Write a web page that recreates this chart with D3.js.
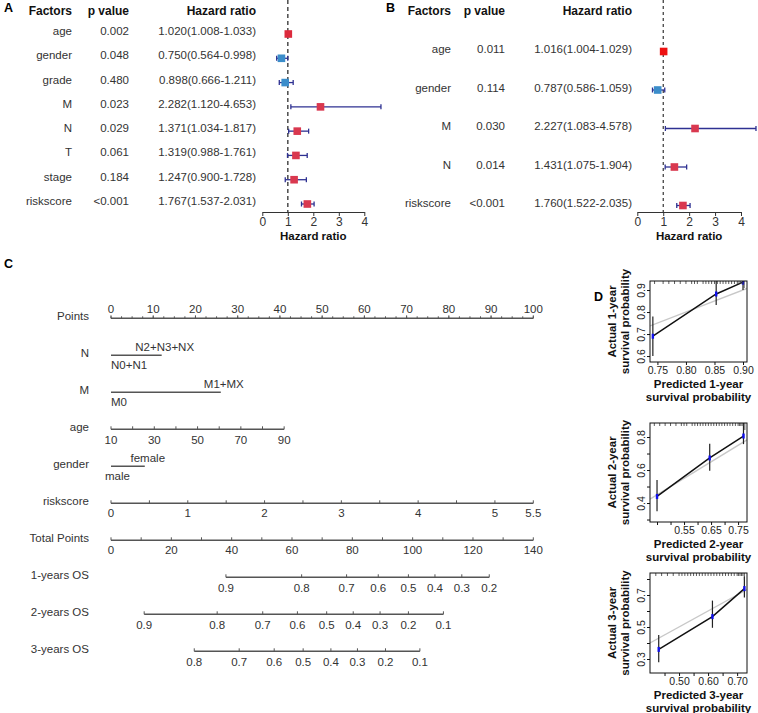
<!DOCTYPE html>
<html><head><meta charset="utf-8">
<script src="https://cdn.jsdelivr.net/npm/d3@7"></script>
<style>body{margin:0;background:#fff}svg{display:block}text{font-family:"Liberation Sans",Arial,sans-serif}</style>
</head><body><svg id="c" width="758" height="713"></svg>
<script>
// ---------- Panel A (univariate) ----------
const factorsA = ["age","gender","grade","M","N","T","stage","riskscore"];
const pA  = ["0.002","0.048","0.480","0.023","0.029","0.061","0.184","<0.001"];
const hrA = [1.020,0.750,0.898,2.282,1.371,1.319,1.247,1.767];
const loA = [1.008,0.564,0.666,1.120,1.034,0.988,0.900,1.537];
const hiA = [1.033,0.998,1.211,4.653,1.817,1.761,1.728,2.031];
// ---------- Panel B (multivariate) ----------
const factorsB = ["age","gender","M","N","riskscore"];
const pB  = ["0.011","0.114","0.030","0.014","<0.001"];
const hrB = [1.016,0.787,2.227,1.431,1.760];
const loB = [1.004,0.586,1.083,1.075,1.522];
const hiB = [1.029,1.059,4.578,1.904,2.035];
const hrTicks = [0,1,2,3,4];
// ---------- Panel C (nomogram) ----------
const nomoRows = ["Points","N","M","age","gender","riskscore","Total Points","1-years OS","2-years OS","3-years OS"];
const pointTicks = [0,10,20,30,40,50,60,70,80,90,100];
const nLevels = ["N0+N1","N2+N3+NX"], nPoints = [0,12];
const mLevels = ["M0","M1+MX"], mPoints = [0,26];
const genderLevels = ["male","female"], genderPoints = [0,8];
const ageTicks = [10,20,30,40,50,60,70,80,90], ageLabels = [10,30,50,70,90], agePointsAt90 = 41;
const riskTicks = [0,0.5,1,1.5,2,2.5,3,3.5,4,4.5,5,5.5], riskLabels = [0,1,2,3,4,5,5.5];
const totalTicks = [0,10,20,30,40,50,60,70,80,90,100,110,120,130,140], totalLabels = [0,20,40,60,80,100,120,140];
const os1Prob = ["0.9","0.8","0.7","0.6","0.5","0.4","0.3","0.2"];
const os1Total = [38.1,63.2,78.1,88.6,98.6,107.4,116.3,125.4];
const os2Prob = ["0.9","0.8","0.7","0.6","0.5","0.4","0.3","0.2","0.1"];
const os2Total = [11.0,35.2,50.3,61.8,71.5,80.3,89.2,98.6,110.2];
const os3Prob = ["0.8","0.7","0.6","0.5","0.4","0.3","0.2","0.1"];
const os3Total = [27.6,42.5,54.1,63.7,72.9,81.7,91.0,102.4];
// ---------- Panel D (calibration) ----------
const cal1Pred = [0.742,0.853,0.900], cal1Obs = [0.690,0.882,0.936], cal1Lo = [0.600,0.832,0.900], cal1Hi = [0.780,0.945,0.980];
const cal2Pred = [0.450,0.645,0.770], cal2Obs = [0.440,0.673,0.806], cal2Lo = [0.350,0.595,0.757], cal2Hi = [0.540,0.760,0.900];
const cal3Pred = [0.430,0.615,0.725], cal3Obs = [0.360,0.565,0.740], cal3Lo = [0.280,0.495,0.685], cal3Hi = [0.450,0.665,0.815];
const cal1XTicks = [0.75,0.80,0.85,0.90], cal1XLabels = [0.75,0.80,0.85,0.90];
const cal2XTicks = [0.45,0.50,0.55,0.60,0.65,0.70,0.75], cal2XLabels = [0.55,0.65,0.75];
const cal3XTicks = [0.45,0.50,0.55,0.60,0.65,0.70], cal3XLabels = [0.50,0.60,0.70];
const cal1YTicks = [0.6,0.7,0.8,0.9], cal1YLabels = [0.6,0.7,0.8,0.9];
const cal2YTicks = [0.3,0.4,0.5,0.6,0.7,0.8], cal2YLabels = [0.4,0.6,0.8];
const cal3YTicks = [0.3,0.4,0.5,0.6,0.7,0.8], cal3YLabels = [0.3,0.5,0.7];
const rug1 = [0.745,0.76,0.77,0.78,0.79,0.80,0.81,0.815,0.82,0.83,0.835,0.84,0.845,0.85,0.855,0.86,0.865,0.87,0.875,0.88,0.885,0.89,0.893,0.896,0.899,0.902];
const rug2 = [0.44,0.46,0.48,0.50,0.52,0.54,0.55,0.56,0.58,0.59,0.60,0.61,0.62,0.63,0.64,0.65,0.66,0.67,0.68,0.69,0.70,0.71,0.72,0.73,0.74,0.75,0.755,0.76,0.765,0.77,0.775];
const rug3 = [0.42,0.44,0.46,0.48,0.50,0.51,0.52,0.53,0.54,0.55,0.56,0.57,0.58,0.59,0.60,0.61,0.62,0.63,0.64,0.65,0.66,0.67,0.68,0.69,0.70,0.705,0.71,0.715,0.72,0.725];

const svg = d3.select("#c");
function txt(x, y, s, o = {}) {
  return svg.append("text").attr("x", x).attr("y", y).attr("dominant-baseline", "central")
    .attr("text-anchor", o.anchor || "start").attr("font-size", o.size || 11.5)
    .attr("font-weight", o.bold ? "bold" : "normal").attr("fill", o.fill || "#333").text(s);
}

// ================= Forest plots =================
function forest(c) {
  txt(c.letterX, 8, c.letter, {bold: true, size: 12.5, fill: "#000"});
  txt(c.colF, 11, "Factors", {anchor: "end", bold: true, size: 12, fill: "#111"});
  txt(c.colP, 11, "p value", {anchor: "end", bold: true, size: 12, fill: "#111"});
  txt(c.colH, 11, "Hazard ratio", {anchor: "end", bold: true, size: 12, fill: "#111"});
  const y = d3.scalePoint().domain(c.factors).range(c.rowRange);
  const x = d3.scaleLinear().domain([0, 4]).range(c.xRange);
  const f3 = d3.format(".3f");
  c.factors.forEach((f, i) => {
    txt(c.colF, y(f), f, {anchor: "end", size: 11.5});
    txt(c.colP, y(f), c.p[i], {anchor: "end", size: 11.5});
    txt(c.colH, y(f), `${f3(c.hr[i])}(${f3(c.lo[i])}-${f3(c.hi[i])})`, {anchor: "end", size: 11.5});
  });
  svg.append("line").attr("x1", x(1)).attr("x2", x(1)).attr("y1", 0).attr("y2", c.axisY)
    .attr("stroke", c.dashCol).attr("stroke-width", c.dashW).attr("stroke-dasharray", c.dash);
  const g = svg.append("g");
  c.factors.forEach((f, i) => {
    const yy = y(f) + c.dy;
    g.append("line").attr("x1", x(c.lo[i])).attr("x2", x(c.hi[i])).attr("y1", yy).attr("y2", yy)
      .attr("stroke", "#2e3192").attr("stroke-width", 1.3);
    [c.lo[i], c.hi[i]].forEach(v => g.append("line").attr("x1", x(v)).attr("x2", x(v))
      .attr("y1", yy - 2.5).attr("y2", yy + 2.5).attr("stroke", "#2e3192").attr("stroke-width", 1.3));
    const col = c.hr[i] < 1 ? "#3b8dca" : (c.hi[i] - c.lo[i] < 0.05 ? c.tightRed : "#d9384f");
    g.append("rect").attr("x", x(c.hr[i]) - 3.8).attr("y", yy - 3.8).attr("width", 7.6).attr("height", 7.6).attr("fill", col);
  });
  const ax = svg.append("g").attr("transform", `translate(0,${c.axisY})`)
    .call(d3.axisBottom(x).tickValues(hrTicks).tickFormat(d3.format("d")).tickSize(4).tickSizeOuter(0));
  ax.selectAll("path,line").attr("stroke", "#333");
  ax.selectAll("text").attr("font-size", 12).attr("fill", "#333").attr("font-family", '"Liberation Sans",Arial,sans-serif').attr("dy", "0.6em");
  txt((c.xRange[0] + c.xRange[1]) / 2, 236, "Hazard ratio", {anchor: "middle", bold: true, size: 11.5, fill: "#111"});
}
forest({letter: "A", letterX: 4, factors: factorsA, p: pA, hr: hrA, lo: loA, hi: hiA,
  colF: 72, colP: 129, colH: 256, rowRange: [31, 201], dy: 3, xRange: [262.3, 364.3], axisY: 212,
  dashCol: "#555", dashW: 1.6, dash: "4,3", tightRed: "#dc2a3c"});
forest({letter: "B", letterX: 386, factors: factorsB, p: pB, hr: hrB, lo: loB, hi: hiB,
  colF: 451, colP: 505, colH: 632, rowRange: [49, 203], dy: 2.5, xRange: [637.3, 741], axisY: 212,
  dashCol: "#222", dashW: 1.1, dash: "3,3", tightRed: "#ee1111"});

// ================= Nomogram =================
txt(4, 264, "C", {bold: true, size: 12.5, fill: "#000"});
const rowY = d3.scalePoint().domain(nomoRows).range([316, 649]);
const pts = d3.scaleLinear().domain([0, 100]).range([111, 533.3]);
const tot = d3.scaleLinear().domain([0, 140]).range([111, 533.3]);
nomoRows.forEach(r => txt(89, rowY(r), r, {anchor: "end", size: 11.5}));
const LC = "#555";
function hline(x1, x2, y) {
  svg.append("line").attr("x1", x1).attr("x2", x2).attr("y1", y).attr("y2", y).attr("stroke", LC).attr("stroke-width", 1.6);
}
function ticks(xs, y, h) {
  xs.forEach(x => svg.append("line").attr("x1", x).attr("x2", x).attr("y1", y).attr("y2", y - h).attr("stroke", LC).attr("stroke-width", 1));
}
function lineY(r) { return rowY(r) + 2.3; }
{
  const y = lineY("Points");
  hline(pts(0), pts(100), y);
  const minor = d3.range(0, 100.01, 2.5);
  ticks(minor.map(pts), y, 2);
  ticks(pointTicks.map(pts), y, 3);
  pointTicks.forEach(v => txt(pts(v), y - 9.5, v, {anchor: "middle"}));
}
function catRow(r, levels, points) {
  const y = lineY(r);
  hline(pts(points[0]), pts(points[1]), y);
  txt(pts(points[0]) - (levels[0] === "male" ? 6 : 0), y + 9.5, levels[0], {anchor: "start"});
  txt(pts(points[1]) + 3, y - 8.5, levels[1], {anchor: "middle"});
}
catRow("N", nLevels, nPoints);
catRow("M", mLevels, mPoints);
catRow("gender", genderLevels, genderPoints);
{
  const y = lineY("age");
  const a = d3.scaleLinear().domain([10, 90]).range([pts(0), pts(agePointsAt90)]);
  hline(a(10), a(90), y);
  ticks(ageTicks.map(a), y, 3);
  ageLabels.forEach(v => txt(a(v), y + 10.5, v, {anchor: "middle"}));
}
{
  const y = lineY("riskscore");
  const rs = d3.scaleLinear().domain([0, 5.5]).range([pts(0), pts(100)]);
  hline(rs(0), rs(5.5), y);
  ticks(riskTicks.map(rs), y, 3);
  riskLabels.forEach(v => txt(rs(v), y + 10, v, {anchor: "middle"}));
}
{
  const y = lineY("Total Points");
  hline(tot(0), tot(140), y);
  ticks(totalTicks.map(tot), y, 3);
  totalLabels.forEach(v => txt(tot(v), y + 10, v, {anchor: "middle"}));
}
function osRow(r, probs, totals) {
  const y = lineY(r);
  hline(tot(totals[0]), tot(totals[totals.length - 1]), y);
  ticks(totals.map(tot), y, 3);
  totals.forEach((t, i) => txt(tot(t), y + 10.5, probs[i], {anchor: "middle"}));
}
osRow("1-years OS", os1Prob, os1Total);
osRow("2-years OS", os2Prob, os2Total);
osRow("3-years OS", os3Prob, os3Total);

// ================= Calibration plots =================
txt(594, 297, "D", {bold: true, size: 12.5, fill: "#000"});
let clipN = 0;
function calib(c) {
  const L = 650, R = 747;
  const x = d3.scaleLinear().domain(c.xdom).range([L, R]);
  const y = d3.scaleLinear().domain(c.ydom).range([c.B, c.T]);
  const id = "clip" + (clipN++);
  svg.append("clipPath").attr("id", id).append("rect").attr("x", L).attr("y", c.T).attr("width", R - L).attr("height", c.B - c.T);
  const g = svg.append("g").attr("clip-path", `url(#${id})`);
  g.append("line").attr("x1", x(c.xdom[0])).attr("y1", y(c.xdom[0])).attr("x2", x(c.xdom[1])).attr("y2", y(c.xdom[1]))
    .attr("stroke", "#c8c8c8").attr("stroke-width", 1.4);
  const pts3 = c.pred.map((p, i) => [x(p), y(c.obs[i])]);
  g.append("path").attr("d", d3.line()(pts3)).attr("fill", "none").attr("stroke", "#111").attr("stroke-width", 1.5);
  c.pred.forEach((p, i) => {
    g.append("line").attr("x1", x(p)).attr("x2", x(p)).attr("y1", y(c.lo[i])).attr("y2", y(c.hi[i]))
      .attr("stroke", "#222").attr("stroke-width", 1.2);
    g.append("rect").attr("x", x(p) - 1.2).attr("y", y(c.obs[i]) - 2.5).attr("width", 2.4).attr("height", 5).attr("fill", "#1010ee");
  });
  c.rug.forEach((v, i) => g.append("line").attr("x1", x(v)).attr("x2", x(v)).attr("y1", c.T).attr("y2", c.T + (i === c.rug.length - 1 ? 7 : 3))
    .attr("stroke", "#333").attr("stroke-width", 0.8));
  svg.append("rect").attr("x", L).attr("y", c.T).attr("width", R - L).attr("height", c.B - c.T)
    .attr("fill", "none").attr("stroke", "#111").attr("stroke-width", 1);
  const xa = svg.append("g").attr("transform", `translate(0,${c.B})`)
    .call(d3.axisBottom(x).tickValues(c.xticks).tickSize(3).tickSizeOuter(0)
      .tickFormat(d => c.xlabels.some(v => Math.abs(v - d) < 1e-9) ? d3.format(".2f")(d) : ""));
  xa.select(".domain").remove();
  xa.selectAll("line").attr("stroke", "#111");
  xa.selectAll("text").attr("font-size", 10.5).attr("fill", "#222").attr("font-family", '"Liberation Sans",Arial,sans-serif').attr("y", 5);
  const ya = svg.append("g").attr("transform", `translate(${L},0)`)
    .call(d3.axisLeft(y).tickValues(c.yticks).tickSize(3).tickSizeOuter(0)
      .tickFormat(d => c.ylabels.some(v => Math.abs(v - d) < 1e-9) ? d3.format(".1f")(d) : ""));
  ya.select(".domain").remove();
  ya.selectAll("line").attr("stroke", "#111");
  ya.selectAll("text").attr("font-size", 10.5).attr("fill", "#222").attr("font-family", '"Liberation Sans",Arial,sans-serif')
    .attr("x", 0).attr("dy", 0).attr("text-anchor", "middle").attr("dominant-baseline", "central")
    .attr("transform", "translate(-9,0) rotate(-90)");
  const cx = (L + R) / 2, cy = (c.T + c.B) / 2;
  txt(cx, c.B + 22, c.xt1, {anchor: "middle", bold: true, size: 11.5, fill: "#111"});
  txt(cx, c.B + 35, "survival probability", {anchor: "middle", bold: true, size: 11.5, fill: "#111"});
  [[c.yt1, L - 38], ["survival probability", L - 25]].forEach(([s, xx]) =>
    svg.append("text").attr("transform", `translate(${xx},${cy}) rotate(-90)`).attr("text-anchor", "middle")
      .attr("dominant-baseline", "central").attr("font-size", 11.5).attr("font-weight", "bold").attr("fill", "#111").text(s));
}
calib({T: 281, B: 362, xdom: [0.737, 0.907], ydom: [0.573, 0.941], pred: cal1Pred, obs: cal1Obs, lo: cal1Lo, hi: cal1Hi,
  xticks: cal1XTicks, xlabels: cal1XLabels, yticks: cal1YTicks, ylabels: cal1YLabels, rug: rug1,
  xt1: "Predicted 1-year", yt1: "Actual 1-year"});
calib({T: 423, B: 522, xdom: [0.424, 0.783], ydom: [0.285, 0.885], pred: cal2Pred, obs: cal2Obs, lo: cal2Lo, hi: cal2Hi,
  xticks: cal2XTicks, xlabels: cal2XLabels, yticks: cal2YTicks, ylabels: cal2YLabels, rug: rug2,
  xt1: "Predicted 2-year", yt1: "Actual 2-year"});
calib({T: 573, B: 673, xdom: [0.40, 0.734], ydom: [0.2125, 0.8375], pred: cal3Pred, obs: cal3Obs, lo: cal3Lo, hi: cal3Hi,
  xticks: cal3XTicks, xlabels: cal3XLabels, yticks: cal3YTicks, ylabels: cal3YLabels, rug: rug3,
  xt1: "Predicted 3-year", yt1: "Actual 3-year"});
</script></body></html>
